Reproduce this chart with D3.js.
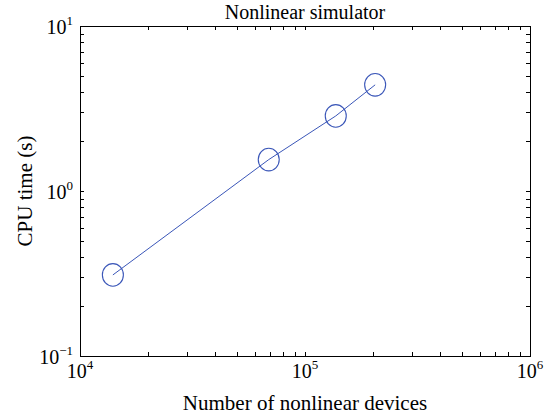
<!DOCTYPE html>
<html>
<head>
<meta charset="utf-8">
<script src="https://cdn.jsdelivr.net/npm/d3@7"></script>
<style>
  html, body { margin: 0; padding: 0; background: #fff; }
  svg { display: block; font-family: "Liberation Serif", "Times New Roman", serif; }
</style>
</head>
<body>
<svg id="chart" width="551" height="418"></svg>
<script>
// Number of nonlinear devices vs. CPU time
const devices = [14000, 69000, 137000, 205000];
const cpuTime = [0.31, 1.55, 2.85, 4.4];
const xDomain = [1e4, 1e6];
const yDomain = [1e-1, 1e1];
const xMajor = [1e4, 1e5, 1e6];
const yMajor = [1e-1, 1e0, 1e1];
const titleText = "Nonlinear simulator";
const xLabelText = "Number of nonlinear devices";
const yLabelText = "CPU time (s)";

const W = 551, H = 418;
const m = { left: 80, right: 21, top: 26, bottom: 62 };
const svg = d3.select("#chart");
const iw = W - m.left - m.right, ih = H - m.top - m.bottom;
const g = svg.append("g").attr("transform", `translate(${m.left},${m.top})`);

const x = d3.scaleLog().domain(xDomain).range([0, iw]);
const y = d3.scaleLog().domain(yDomain).range([ih, 0]);

const color = "#3a56b8";
const tickLen = 4;

// every tick (major + minor) inside the box, on all four sides
const xTicks = x.ticks();
const yTicks = y.ticks();

const tg = g.append("g").attr("stroke", "#000").attr("stroke-width", 1);
xTicks.forEach(v => {
  const px = Math.round(x(v)) + 0.5;
  tg.append("line").attr("x1", px).attr("x2", px).attr("y1", ih).attr("y2", ih - tickLen);
  tg.append("line").attr("x1", px).attr("x2", px).attr("y1", 0).attr("y2", tickLen);
});
yTicks.forEach(v => {
  const py = Math.round(y(v)) + 0.5;
  tg.append("line").attr("y1", py).attr("y2", py).attr("x1", 0).attr("x2", tickLen);
  tg.append("line").attr("y1", py).attr("y2", py).attr("x1", iw).attr("x2", iw - tickLen);
});

// frame
g.append("rect").attr("x", 0.5).attr("y", 0.5).attr("width", iw).attr("height", ih)
  .attr("fill", "none").attr("stroke", "#000").attr("stroke-width", 1);

// tick labels as 10^k
function expLabel(sel, v) {
  const e = Math.round(Math.log10(v));
  sel.append("tspan").text("10");
  sel.append("tspan").attr("dy", -9).attr("font-size", 13).text(e < 0 ? "\u2212" + (-e) : String(e));
}
xMajor.forEach(v => {
  const t = g.append("text").attr("x", x(v)).attr("y", ih + 22)
    .attr("text-anchor", "middle").attr("font-size", 20).attr("fill", "#000");
  expLabel(t, v);
});
yMajor.forEach(v => {
  const t = g.append("text").attr("x", -7).attr("y", y(v) + 8)
    .attr("text-anchor", "end").attr("font-size", 20).attr("fill", "#000");
  expLabel(t, v);
});

// series: line through the points, circle markers
g.append("path")
  .datum(devices.map((d, i) => [d, cpuTime[i]]))
  .attr("fill", "none").attr("stroke", color).attr("stroke-width", 1)
  .attr("d", d3.line().x(d => x(d[0])).y(d => y(d[1])));

g.selectAll("ellipse.mk").data(devices).join("ellipse").attr("class", "mk")
  .attr("cx", (d) => x(d)).attr("cy", (d, i) => y(cpuTime[i]))
  .attr("rx", 10.5).attr("ry", 11.3)
  .attr("fill", "none").attr("stroke", color).attr("stroke-width", 1.1);

// titles
svg.append("text").attr("x", m.left + iw / 2).attr("y", 19)
  .attr("text-anchor", "middle").attr("font-size", 20).text(titleText);
svg.append("text").attr("x", m.left + iw / 2).attr("y", H - 8)
  .attr("text-anchor", "middle").attr("font-size", 21).text(xLabelText);
svg.append("text").attr("transform", `translate(32,${m.top + ih / 2}) rotate(-90)`)
  .attr("text-anchor", "middle").attr("font-size", 21).text(yLabelText);
</script>
</body>
</html>
